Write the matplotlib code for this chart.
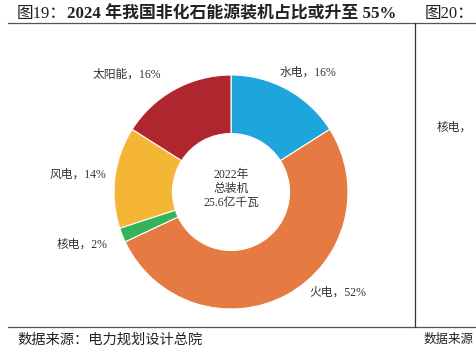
import matplotlib.pyplot as plt

plt.rcParams['font.family'] = ['Liberation Serif', 'Noto Sans CJK SC']

# data
labels = ['水电', '火电', '核电', '风电', '太阳能']
shares = [16, 52, 2, 14, 16]
colors = ['#1EA5DC', '#E67A43', '#35B25A', '#F5B535', '#B0262F']
# label positions in pie units (radius = 1)
label_pos = [(0.66, 1.02), (0.91, -0.86), (-1.27, -0.45), (-1.31, 0.15), (-0.89, 1.0)]
center_lines = ['2022年', '总装机', '25.6亿千瓦']

W, H = 477, 360
fig = plt.figure(figsize=(W / 100, H / 100), dpi=100)
fig.patch.set_facecolor('white')

def fx(px):
    return px / W

def fy(py):
    return 1 - py / H

# pie axes: centre (231, 192), radius 117 px
cx, cy, r = 231, 192, 117
ax = fig.add_axes([fx(cx - r), fy(cy + r), 2 * r / W, 2 * r / H])
ax.pie(shares, colors=colors, startangle=90, counterclock=False, radius=1,
       wedgeprops=dict(width=0.5, edgecolor='white', linewidth=0.8))
ax.set_xlim(-1, 1)
ax.set_ylim(-1, 1)
ax.set_aspect('auto')
ax.axis('off')

text_color = '#333333'
for name, s, (x, y) in zip(labels, shares, label_pos):
    ax.text(x, y, f'{name}，{s}%', ha='center', va='center', fontsize=8.5,
            color=text_color, clip_on=False)

for i, line in enumerate(center_lines):
    ax.text(0, 0.145 - i * 0.12, line, ha='center', va='center', fontsize=8.5,
            color=text_color)

# frame lines
line_color = '#555555'
fig.add_artist(plt.Line2D([fx(8), fx(W)], [fy(23), fy(23)], color=line_color, lw=0.9))
fig.add_artist(plt.Line2D([fx(8), fx(W)], [fy(327), fy(327)], color=line_color, lw=0.9))
fig.add_artist(plt.Line2D([fx(415.5), fx(415.5)], [fy(23), fy(327)], color='#333333', lw=0.9))

# titles
fig.text(fx(17), fy(14), '图19：', fontsize=12, color='#222222', va='center')
fig.text(fx(67), fy(14), '2024 年我国非化石能源装机占比或升至 55%', fontsize=12.2,
         fontweight='bold', color='#222222', va='center')
fig.text(fx(425), fy(14), '图20：', fontsize=12, color='#222222', va='center')
fig.text(fx(437), fy(128), '核电，', fontsize=8.5, color=text_color, va='center')

fig.text(fx(17), fy(340), '数据来源：电力规划设计总院', fontsize=10.3, color='#222222', va='center')
fig.text(fx(424), fy(340), '数据来源', fontsize=9, color='#222222', va='center')

fig.savefig('out.png', dpi=100)
